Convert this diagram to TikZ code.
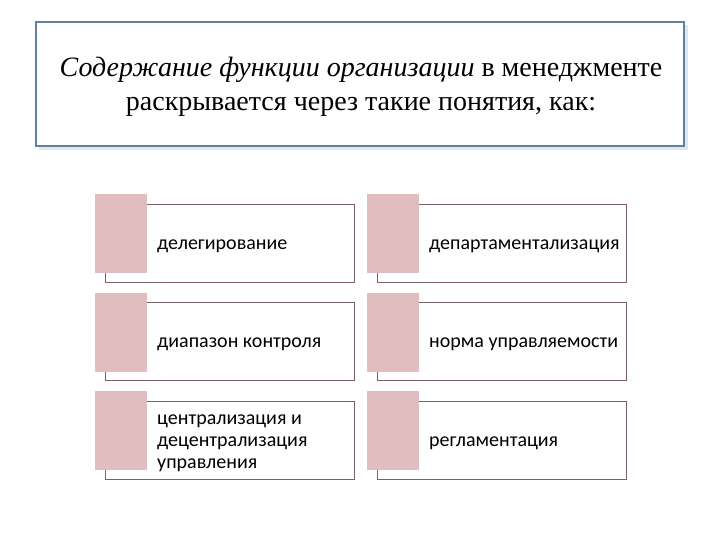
\documentclass[tikz,border=0pt]{standalone}
\usepackage{fontspec}
\setmainfont{Liberation Serif}
\newfontfamily\itemfont{Carlito}
\definecolor{titleborder}{RGB}{98,128,160}
\definecolor{shadowc}{RGB}{222,230,238}
\definecolor{pinkfill}{RGB}{224,190,192}
\definecolor{itemborder}{RGB}{128,96,104}
\begin{document}
\begin{tikzpicture}[x=1pt,y=-1pt,
  titlebox/.style={draw=titleborder,line width=1.6pt,fill=white},
  itembox/.style={draw=itemborder,line width=0.8pt,fill=white},
  pinkbox/.style={fill=pinkfill,draw=none},
  itemtext/.style={anchor=west,font=\itemfont\fontsize{20}{22}\selectfont,align=left,inner sep=0pt,text=black}]
\useasboundingbox (0,0) rectangle (720,540);
% title
\fill[shadowc] (39,25) rectangle (688,150);
\draw[titlebox] (36,22) rectangle (684,146);
\node[font=\fontsize{28}{34}\selectfont,align=center] (title) at (361,87)
  {\textit{Содержание функции организации} в менеджменте\\раскрывается через такие понятия, как:};
% items
\foreach \nm/\x/\y/\t in {a/0/0/{делегирование},
                         b/272/0/{департаментализация},
                         c/0/98.5/{диапазон контроля},
                         d/272/98.5/{норма управляемости},
                         e/0/197/{централизация и\\децентрализация\\управления},
                         f/272/197/{регламентация}}{
  \draw[itembox] (105+\x,204+\y) rectangle (354+\x,282+\y);
  \fill[pinkbox] (95+\x,194+\y) rectangle (147+\x,273+\y);
  \node[itemtext] (\nm) at (157+\x,246+\y) {\t};
}
\end{tikzpicture}
\end{document}
